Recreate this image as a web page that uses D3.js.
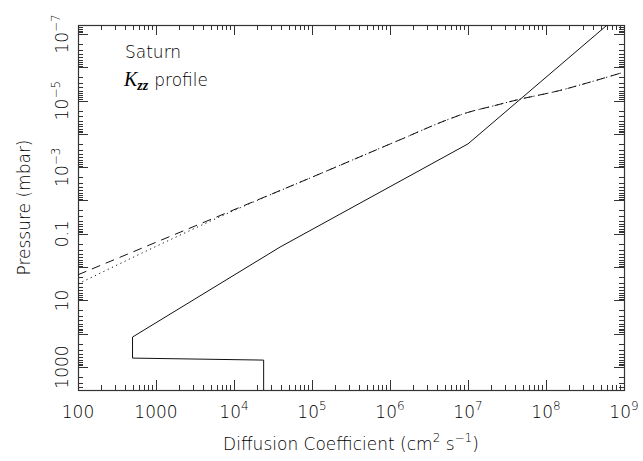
<!DOCTYPE html>
<html>
<head>
<meta charset="utf-8">
<script src="https://cdn.jsdelivr.net/npm/d3@7"></script>
<style>
  html, body { margin: 0; padding: 0; background: #fff; }
  svg text { font-family: "DejaVu Sans", sans-serif; font-weight: 200; fill: #000; }
</style>
</head>
<body>
<svg id="chart" width="643" height="461"></svg>
<script>
// ---- data ----
const solidK  = [2.4e4, 2.4e4, 500, 500, 3.9e4, 1e7, 1e9];
const solidP  = [6000, 620, 540, 126, 0.25, 2.0e-4, 2.0e-8];

const dashedK = [100, 1000, 1e4, 1e5, 1.35e6, 5.4e6, 9.8e6, 2e7, 4.3e7, 1.5e8, 3.4e8, 1e9];
const dashedP = [1.7, 0.18, 0.019, 2.0e-3, 1.5e-4, 3.8e-5, 2.3e-5, 1.5e-5, 9.5e-6, 5.0e-6, 2.95e-6, 1.4e-6];

const dottedK = [100, 1000, 1e4, 1e5, 1.35e6, 5.4e6, 9.8e6, 2e7, 4.3e7, 1.5e8, 3.4e8, 1e9];
const dottedP = [3.2, 0.24, 0.02, 2.0e-3, 1.5e-4, 3.8e-5, 2.3e-5, 1.5e-5, 9.5e-6, 5.0e-6, 2.95e-6, 1.4e-6];

const xTickValues = [100, 1000, 1e4, 1e5, 1e6, 1e7, 1e8, 1e9];
const xTickLabels = [["100", ""], ["1000", ""], ["10", "4"], ["10", "5"], ["10", "6"], ["10", "7"], ["10", "8"], ["10", "9"]];
const yTickValues = [1e-7, 1e-5, 1e-3, 0.1, 10, 1000];
const yTickLabels = [["10", "\u22127"], ["10", "\u22125"], ["10", "\u22123"], ["0.1", ""], ["10", ""], ["1000", ""]];

const xDomain = [100, 1e9];
const yDomain = [4900, 5.4e-8];

// ---- layout ----
const L = 78, R = 624, T = 25, B = 390;
const svg = d3.select("#chart");
const x = d3.scaleLog().domain(xDomain).range([L, R]);
const y = d3.scaleLog().domain(yDomain).range([B, T]);

svg.append("defs").append("clipPath").attr("id", "plotclip")
  .append("rect").attr("x", L).attr("y", T).attr("width", R - L).attr("height", B - T);

// minor + major ticks
function ticksFor(domain) {
  const lo = Math.floor(Math.log10(Math.min(...domain)));
  const hi = Math.ceil(Math.log10(Math.max(...domain)));
  const out = [];
  for (let e = lo; e <= hi; e++) {
    for (let m = 1; m <= 9; m++) {
      const v = m * Math.pow(10, e);
      if (v >= Math.min(...domain) * 0.9999 && v <= Math.max(...domain) * 1.0001) out.push({ v, major: m === 1 });
    }
  }
  return out;
}
const axisColor = "#333";
const gT = svg.append("g").attr("stroke", axisColor).attr("stroke-width", 1);
ticksFor(xDomain).forEach(t => {
  const px = Math.round(x(t.v)) + 0.5, len = t.major ? 10 : 5;
  gT.append("line").attr("x1", px).attr("x2", px).attr("y1", B).attr("y2", B - len);
  gT.append("line").attr("x1", px).attr("x2", px).attr("y1", T).attr("y2", T + len);
});
ticksFor(yDomain).forEach(t => {
  const py = Math.round(y(t.v)) + 0.5, len = t.major ? 10 : 5;
  gT.append("line").attr("x1", L).attr("x2", L + len).attr("y1", py).attr("y2", py);
  gT.append("line").attr("x1", R).attr("x2", R - len).attr("y1", py).attr("y2", py);
});
svg.append("rect").attr("x", L + 0.5).attr("y", T + 0.5).attr("width", R - L).attr("height", B - T)
  .attr("fill", "none").attr("stroke", axisColor).attr("stroke-width", 1.2);

// tick labels
xTickValues.forEach((v, i) => {
  const t = svg.append("text").attr("x", x(v)).attr("y", 418)
    .attr("text-anchor", "middle").attr("font-size", 17);
  t.append("tspan").text(xTickLabels[i][0]);
  if (xTickLabels[i][1]) t.append("tspan").attr("dy", -8).attr("font-size", 12).text(xTickLabels[i][1]);
});
yTickValues.forEach((v, i) => {
  const t = svg.append("text").attr("transform", `translate(68,${y(v)}) rotate(-90)`)
    .attr("text-anchor", "middle").attr("font-size", 17);
  t.append("tspan").text(yTickLabels[i][0]);
  if (yTickLabels[i][1]) t.append("tspan").attr("dy", -8).attr("font-size", 12).text(yTickLabels[i][1]);
});

// axis titles
const xt = svg.append("text").attr("x", (L + R) / 2).attr("y", 450).attr("text-anchor", "middle").attr("font-size", 17);
xt.append("tspan").text("Diffusion Coefficient (cm");
xt.append("tspan").attr("dy", -8).attr("font-size", 12).text("2");
xt.append("tspan").attr("dy", 8).text(" s");
xt.append("tspan").attr("dy", -8).attr("font-size", 12).text("\u22121");
xt.append("tspan").attr("dy", 8).text(")");

svg.append("text").attr("transform", `translate(30,${(T + B) / 2}) rotate(-90)`)
  .attr("text-anchor", "middle").attr("font-size", 17).text("Pressure (mbar)");

// annotation
svg.append("text").attr("x", 125).attr("y", 58).attr("font-size", 17).text("Saturn");
const kt = svg.append("text").attr("x", 124).attr("y", 86).attr("font-size", 17);
kt.append("tspan").attr("font-family", "Liberation Serif, serif").attr("font-style", "italic").attr("font-weight", "normal").attr("font-size", 20).text("K");
kt.append("tspan").attr("font-family", "Liberation Serif, serif").attr("font-style", "italic").attr("font-weight", "bold")
  .attr("font-size", 14).attr("dy", 4).text("zz");
kt.append("tspan").attr("dy", -4).attr("dx", 6).text("profile");

// curves
const line = d3.line().x(d => x(d[0])).y(d => y(d[1])).curve(d3.curveMonotoneX);
const plot = svg.append("g").attr("clip-path", "url(#plotclip)").attr("fill", "none").attr("stroke", "#111").attr("stroke-width", 1);
plot.append("path").attr("d", d3.line().x(d => x(d[0])).y(d => y(d[1]))(d3.zip(solidK, solidP)));
plot.append("path").attr("d", line(d3.zip(dashedK, dashedP))).attr("stroke-dasharray", "9,6");
plot.append("path").attr("d", line(d3.zip(dottedK, dottedP))).attr("stroke-dasharray", "1.2,3.5");
</script>
</body>
</html>
